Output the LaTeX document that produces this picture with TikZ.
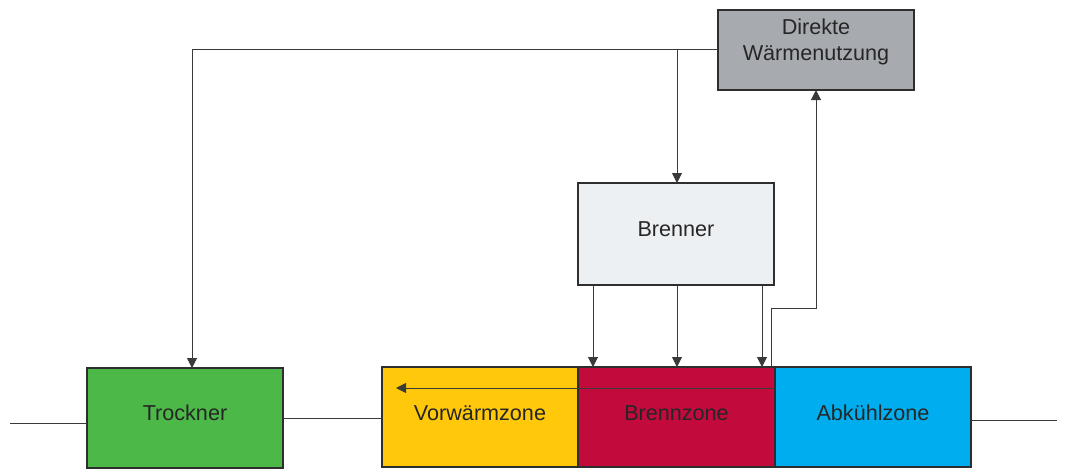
\documentclass[tikz,border=0pt]{standalone}
\usepackage{fontspec}
\setmainfont{Liberation Sans}
\usetikzlibrary{arrows.meta}
\definecolor{cGreen}{HTML}{4CB848}
\definecolor{cYellow}{HTML}{FFC80A}
\definecolor{cRed}{HTML}{C30A3C}
\definecolor{cCyan}{HTML}{00AEEF}
\definecolor{cGray}{HTML}{A7ABB0}
\definecolor{cLight}{HTML}{EDF0F3}
\definecolor{cBorder}{HTML}{2E2E2E}
\definecolor{cLine}{HTML}{3A3A3A}
\begin{document}
\begin{tikzpicture}[x=0.5pt,y=-0.5pt,
  box/.style={draw=cBorder,line width=0.8pt,inner sep=0pt,outer sep=0pt,minimum width=98pt},
  zone/.style={box,minimum height=50pt},
  lbl/.style={font=\fontsize{10.8}{13}\selectfont,text=black!85,align=center,inner sep=0pt},
  ln/.style={draw=cLine,line width=0.5pt},
  arr/.style={ln,-{Triangle[length=5pt,width=5pt]}}]
\useasboundingbox (0,0) rectangle (1067,468);
% boxes
\node[zone,fill=cGreen] (trockner) at (185,418) {};
\node[zone,fill=cYellow] (vor) at (480,417) {};
\node[zone,fill=cRed] (brenn) at (676.5,417) {};
\node[zone,fill=cCyan] (abk) at (873,417) {};
\node[box,fill=cGray,minimum height=40pt] (dw) at (816,50) {};
\node[box,fill=cLight,minimum height=51pt] (brenner) at (676,234) {};
% labels
\node[lbl] (tTrockner) at (185,413) {Trockner};
\node[lbl] (tVor) at (480,413) {Vorwärmzone};
\node[lbl] (tBrenn) at (676.5,413) {Brennzone};
\node[lbl] (tAbk) at (873,413) {Abkühlzone};
\node[lbl] (tBrenner) at (676,229) {Brenner};
\node[lbl] (tDw) at (816,42) {Direkte\\Wärmenutzung};
% coordinates
\coordinate (inL) at (10,423);
\coordinate (outR) at (1057,420);
\coordinate (tl) at (192,49);
\coordinate (bj) at (677,49);
\coordinate (b1) at (593,0);
\coordinate (b2) at (677,0);
\coordinate (b3) at (762,0);
\coordinate (r1) at (771,308);
\coordinate (r2) at (816,308);
\coordinate (ia) at (773,388);
\coordinate (ib) at (396,388);
% connectors
\draw[ln] (inL) -- (inL -| trockner.west);
\draw[ln] (trockner.east) -- (vor.west |- trockner.east);
\draw[ln] (abk.east |- outR) -- (outR);
\draw[arr] (dw.west |- tl) -- (tl) -- (tl |- trockner.north);
\draw[arr] (bj) -- (bj |- brenner.north);
\draw[arr] (b1 |- brenner.south) -- (b1 |- brenn.north);
\draw[arr] (b2 |- brenner.south) -- (b2 |- brenn.north);
\draw[arr] (b3 |- brenner.south) -- (b3 |- brenn.north);
\draw[arr] (r1 |- abk.north) -- (r1) -- (r2) -- (dw.south);
\draw[arr] (ia) -- (ib);
\end{tikzpicture}
\end{document}
